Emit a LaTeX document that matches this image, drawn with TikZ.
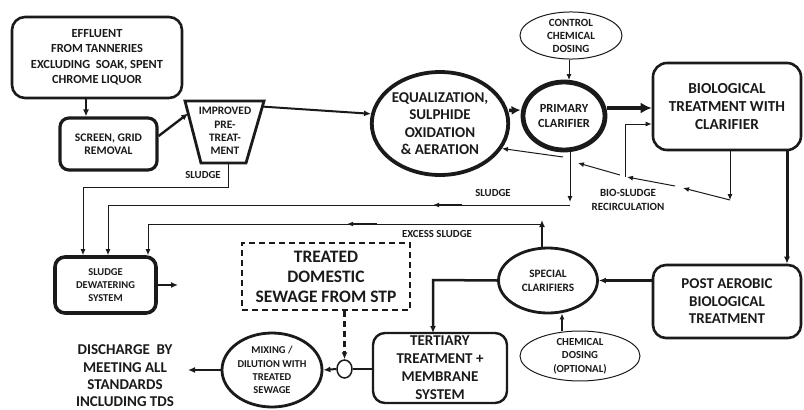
\documentclass[tikz,border=0pt]{standalone}
\usepackage{fontspec}
\setmainfont{Carlito}
\usetikzlibrary{arrows.meta,shapes.geometric,calc}
\definecolor{ink}{HTML}{1A1A1A}
\tikzset{
  box/.style={draw=ink, rounded corners=10pt, align=center, font=\bfseries, text=ink, inner sep=0pt},
  oval/.style={draw=ink, ellipse, align=center, font=\bfseries, text=ink, inner sep=0pt},
  lbl/.style={align=center, font=\bfseries\fontsize{10.8}{13.5}\selectfont, text=ink, inner sep=0pt},
  arr/.style={draw=ink, -{Latex[length=7pt,width=6pt]}},
  thinarr/.style={draw=ink, line width=1pt, -{Latex[length=6pt,width=5pt]}},
}
\begin{document}
\begin{tikzpicture}[x=1pt,y=-1pt]
\useasboundingbox (0,0) rectangle (804,410);
% nodes
\node[box, line width=2.6pt, rounded corners=13pt, minimum width=170pt, minimum height=81pt,
  font=\bfseries\fontsize{12.4}{15.5}\selectfont] (eff) at (97,57.5)
  {EFFLUENT\\FROM TANNERIES\\EXCLUDING~~SOAK, SPENT\\CHROME LIQUOR};
\node[box, line width=3.2pt, rounded corners=9pt, minimum width=97pt, minimum height=52pt,
  font=\bfseries\fontsize{11.6}{13.5}\selectfont] (scr) at (108.5,144) {SCREEN, GRID\\REMOVAL};
\coordinate (ptl) at (185,101); \coordinate (ptr) at (264,101);
\coordinate (pbr) at (246,163); \coordinate (pbl) at (201,163);
\draw[ink, line width=2.8pt, line join=miter] (ptl) -- (ptr) -- (pbr) -- (pbl) -- cycle;
\node[lbl, font=\bfseries\fontsize{11.4}{13.3}\selectfont] (pre) at (225,131) {IMPROVED\\PRE-\\TREAT-\\MENT};
\node[oval, line width=3.8pt, minimum width=134pt, minimum height=103pt,
  font=\bfseries\fontsize{15}{17.5}\selectfont] (eq) at (440,123.5)
  {EQUALIZATION,\\SULPHIDE\\OXIDATION\\\&~AERATION};
\node[oval, line width=4.8pt, minimum width=82pt, minimum height=68pt,
  font=\bfseries\fontsize{12.4}{15}\selectfont] (pc) at (564,116) {PRIMARY\\CLARIFIER};
\node[oval, line width=1pt, minimum width=102pt, minimum height=45pt,
  font=\bfseries\fontsize{11}{13}\selectfont] (ccd) at (571,35.5) {CONTROL\\CHEMICAL\\DOSING};
\node[box, line width=2.6pt, rounded corners=14pt, minimum width=148pt, minimum height=87pt,
  font=\bfseries\fontsize{15.3}{18}\selectfont] (bio) at (727,106.5) {BIOLOGICAL\\TREATMENT WITH\\CLARIFIER};
\node[box, line width=2.6pt, rounded corners=13pt, minimum width=148pt, minimum height=73pt,
  font=\bfseries\fontsize{15}{17.5}\selectfont] (pab) at (727,301.5) {POST AEROBIC\\BIOLOGICAL\\TREATMENT};
\node[oval, line width=2.8pt, minimum width=99pt, minimum height=65pt,
  font=\bfseries\fontsize{11.3}{14}\selectfont] (spc) at (548,280.5) {SPECIAL\\CLARIFIERS};
\node[oval, line width=1pt, minimum width=120pt, minimum height=48pt,
  font=\bfseries\fontsize{10.8}{13.3}\selectfont] (cdo) at (580,356) {CHEMICAL\\DOSING\\(OPTIONAL)};
\node[box, line width=2.4pt, rounded corners=12pt, minimum width=134pt, minimum height=70pt,
  font=\bfseries\fontsize{15}{18}\selectfont] (ter) at (440,368) {TERTIARY\\TREATMENT +\\MEMBRANE\\SYSTEM};
\node[box, line width=2.2pt, rounded corners=0pt, dashed, dash pattern=on 6pt off 4pt, minimum width=168pt, minimum height=67pt,
  font=\bfseries\fontsize{17.5}{20}\selectfont] (tds) at (326,276.5) {TREATED\\DOMESTIC\\SEWAGE FROM STP};
\node[oval, line width=1.5pt, minimum width=15pt, minimum height=18pt] (sm) at (344.5,369) {};
\node[oval, line width=2.8pt, minimum width=100pt, minimum height=74pt,
  font=\bfseries\fontsize{10.5}{13.3}\selectfont] (mix) at (272,370) {MIXING /\\DILUTION WITH\\TREATED\\SEWAGE};
\node[lbl, font=\bfseries\fontsize{15}{17.3}\selectfont] (dis) at (125,376) {DISCHARGE~~BY\\MEETING ALL\\STANDARDS\\INCLUDING TDS};
\node[box, line width=3.6pt, rounded corners=10pt, minimum width=101pt, minimum height=56pt,
  font=\bfseries\fontsize{10.5}{13.3}\selectfont] (sdw) at (105.5,285) {SLUDGE\\DEWATERING\\SYSTEM};
% labels
\node[lbl] (l1) at (203,175) {SLUDGE};
\node[lbl] (l2) at (493,193) {SLUDGE};
\node[lbl] (l3) at (437,234) {EXCESS SLUDGE};
\node[lbl, font=\bfseries\fontsize{11}{13.5}\selectfont] (l4) at (628,200) {BIO-SLUDGE\\RECIRCULATION};
% main flow
\draw[arr, line width=2pt] ($(eff.south)+(-11,0)$) -- ($(scr.north)+(-22.5,0)$);
\draw[arr, line width=2.4pt] ($(scr.east)+(0,-8)$) -- ($(ptl)!0.2!(pbl)$);
\draw[arr, line width=2pt] ($(ptr)!0.09!(pbr)$) -- (eq.172);
\draw[arr, line width=3.5pt, -{Latex[length=9pt,width=9pt]}] ($(eq.east)+(-1,-13)$) -- ($(pc.west)+(0,-6)$);
\draw[thinarr] (ccd.south -| 569,0) -- ($(pc.north)+(5,0.5)$);
\draw[arr, line width=4pt, -{Latex[length=11pt,width=11pt]}] ($(pc.east)+(0,-8)$) -- ($(bio.west)+(0,1.5)$);
\draw[arr, line width=3pt] ($(bio.south)+(60,0)$) -- ($(pab.north)+(60,0)$);
\draw[arr, line width=2.5pt] ($(pab.west)+(0,-21)$) -- (spc.east);
\draw[thinarr, line width=1.5pt] ($(cdo.north)+(-18,0)$) -- ($(spc.south)+(14,-1)$);
\draw[arr, line width=2.5pt] (spc.west) -- (433,280) -- (433,333);
\draw[ink, line width=1.5pt] (ter.west |- sm.east) -- (sm.east);
\draw[arr, line width=2pt] (sm.west) -- (mix.east);
\draw[arr, line width=2.3pt, dashed, dash pattern=on 6pt off 4pt] (tds.south -| sm.north) -- (sm.north);
\draw[arr, line width=2.5pt] (mix.west) -- (188,370);
\coordinate (sdwout) at (178,285);
\draw[arr, line width=2.5pt] (sdw.east) -- (sdwout);
% sludge from pre-treatment
\draw[thinarr] (228,163) -- (228,187) -- (83,187) -- (sdw.north -| 83,0);
% sludge from primary clarifier
\draw[thinarr] ($(pc.south)+(6,-0.5)$) -- (570,202);
\draw[thinarr] (570,205) -- (108,205) -- (sdw.north -| 108,0);
\draw[thinarr, line width=1.2pt] (462,205) -- (433,205);
% excess sludge
\draw[arr, line width=2.5pt] (spc.north -| 542,0) -- (542,220);
\draw[thinarr] (542,224) -- (148,224) -- (sdw.north -| 148,0);
\draw[thinarr, line width=1.2pt] (377,224) -- (347,224);
% bio-sludge recirculation
\coordinate (b1) at (730,200);
\draw[thinarr] ($(bio.south)+(3,0)$) -- (b1);
\draw[thinarr] (b1) -- (683,188);
\draw[thinarr] (675,186) -- (627,177);
\draw[thinarr] (625,177) -- (625,124) -- (bio.west |- 625,124);
\draw[thinarr] (620,175) -- (578,163);
\draw[thinarr] (563,157) -- (eq.-22);
\end{tikzpicture}
\end{document}
